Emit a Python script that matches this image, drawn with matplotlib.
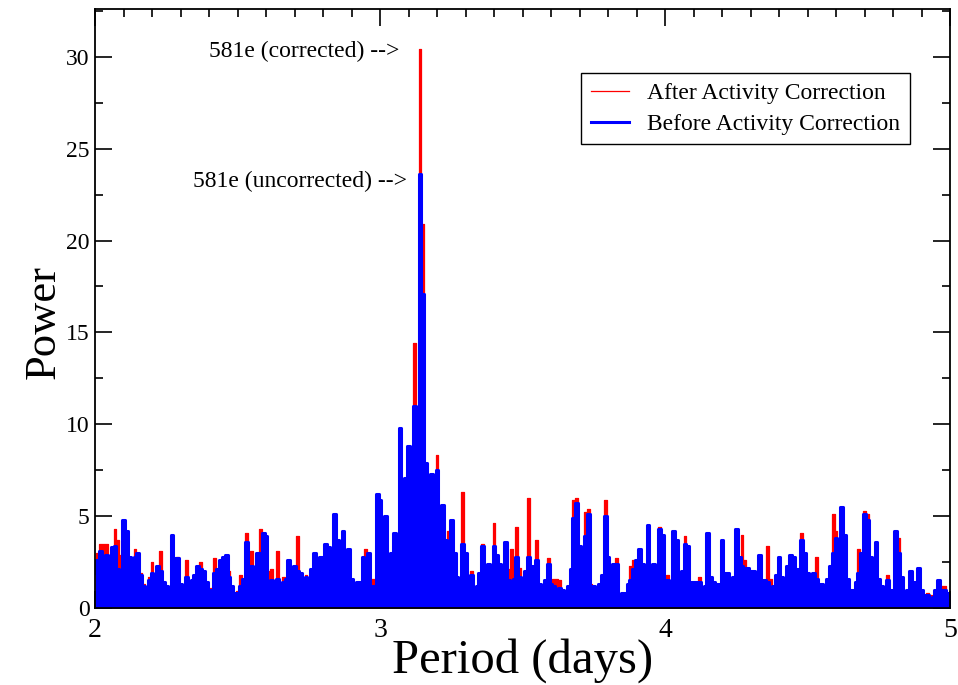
import numpy as np
import matplotlib.pyplot as plt
from matplotlib.ticker import MultipleLocator

plt.rcParams['font.family'] = ['Liberation Serif', 'DejaVu Serif']

# period grid (days), 0.01 d steps from 2 to 5
period = np.round(np.linspace(2.0, 5.0, 301), 2)

# periodogram power before activity correction (blue)
power_before = [
    1.9, 2.6, 3.1, 2.0, 2.9, 1.5, 3.3, 3.4, 2.1, 1.7,
    4.8, 4.2, 2.8, 1.2, 2.8, 3.0, 1.8, 1.2, 1.0, 1.5,
    1.9, 1.5, 2.3, 2.0, 1.4, 1.2, 1.0, 4.0, 2.7, 2.7,
    1.3, 0.9, 1.7, 1.2, 1.5, 1.8, 2.3, 2.1, 2.0, 1.4,
    1.0, 1.0, 1.9, 2.1, 2.6, 2.8, 2.9, 1.7, 1.2, 0.8,
    0.8, 1.2, 1.6, 3.6, 2.0, 2.3, 1.8, 3.0, 3.0, 4.1,
    3.9, 1.4, 1.5, 1.2, 1.6, 0.6, 1.4, 1.6, 2.6, 2.1,
    2.3, 2.0, 1.9, 1.0, 1.7, 1.5, 2.1, 3.0, 2.3, 2.8,
    1.5, 3.5, 3.3, 2.5, 5.1, 3.7, 2.0, 4.2, 1.7, 3.2,
    1.6, 1.0, 1.4, 1.4, 2.8, 2.5, 3.0, 1.2, 1.2, 6.2,
    5.9, 1.0, 5.0, 1.4, 3.0, 4.1, 3.5, 9.8, 4.5, 7.1,
    8.8, 7.3, 11.0, 4.0, 23.6, 17.1, 7.9, 6.0, 7.3, 3.5,
    7.5, 4.0, 5.6, 3.7, 1.2, 4.8, 3.0, 1.7, 0.9, 3.5,
    3.0, 0.6, 1.8, 1.0, 1.2, 1.9, 3.4, 2.3, 2.4, 2.0,
    3.4, 2.9, 2.4, 1.0, 3.6, 1.5, 1.3, 1.6, 2.8, 1.7,
    1.4, 2.0, 2.8, 2.3, 1.7, 2.6, 1.3, 0.8, 1.5, 2.4,
    1.3, 1.2, 1.0, 1.1, 1.0, 0.8, 1.2, 2.1, 4.9, 5.7,
    3.4, 2.9, 3.9, 5.1, 1.0, 1.2, 1.0, 1.3, 1.8, 5.0,
    2.8, 2.0, 2.4, 2.4, 0.6, 0.8, 0.8, 1.3, 1.5, 2.1,
    2.6, 3.2, 2.4, 1.8, 4.5, 1.9, 2.4, 2.0, 4.3, 4.0,
    1.0, 1.5, 1.2, 4.2, 3.7, 1.2, 2.0, 3.5, 3.4, 1.4,
    1.4, 1.4, 1.4, 1.0, 1.2, 4.1, 1.7, 1.4, 1.3, 1.3,
    3.7, 1.9, 1.9, 1.0, 1.7, 4.3, 2.8, 2.3, 2.2, 2.2,
    2.0, 2.0, 1.8, 2.9, 1.5, 1.5, 1.4, 1.0, 1.2, 1.8,
    2.8, 1.7, 1.5, 2.3, 2.9, 2.8, 2.1, 1.9, 3.7, 3.0,
    1.9, 1.0, 1.9, 1.6, 1.0, 1.3, 1.2, 1.6, 2.3, 3.0,
    3.8, 3.4, 5.5, 4.0, 1.6, 1.0, 1.0, 1.4, 1.9, 3.0,
    5.1, 4.8, 2.8, 1.7, 3.6, 1.6, 1.2, 1.0, 1.5, 1.0,
    1.0, 4.2, 3.0, 1.7, 0.8, 1.0, 2.0, 1.2, 1.4, 2.2,
    1.0, 0.7, 0.7, 0.5, 0.6, 1.0, 1.5, 1.0, 1.0, 0.8,
    0.8,
]

# periodogram power after activity correction (red)
power_after = [
    2.2, 3.0, 3.5, 3.5, 3.5, 2.3, 3.3, 4.3, 3.7, 2.9,
    4.8, 4.2, 2.8, 1.3, 3.2, 3.0, 1.9, 1.3, 1.0, 1.7,
    2.5, 1.5, 2.3, 3.1, 1.4, 1.2, 1.1, 4.0, 2.7, 2.8,
    1.3, 0.9, 2.6, 1.2, 1.5, 1.8, 2.3, 2.5, 2.0, 1.4,
    1.0, 1.1, 2.7, 2.1, 2.6, 2.8, 2.9, 2.0, 1.2, 0.8,
    0.9, 1.8, 1.6, 4.1, 2.0, 3.1, 1.8, 3.0, 4.3, 4.1,
    3.9, 2.0, 2.1, 1.2, 3.1, 0.6, 1.7, 1.6, 2.6, 2.1,
    2.3, 3.9, 1.9, 1.4, 1.8, 1.5, 2.1, 3.0, 2.4, 2.8,
    1.5, 3.5, 3.3, 2.5, 5.1, 3.7, 2.0, 4.2, 1.7, 3.2,
    1.6, 1.0, 1.4, 1.4, 2.8, 3.2, 3.0, 1.6, 1.6, 6.2,
    5.9, 1.0, 5.0, 1.4, 3.0, 4.1, 3.5, 9.8, 4.5, 7.1,
    8.8, 7.3, 14.4, 4.2, 30.4, 20.9, 7.9, 6.0, 7.3, 3.5,
    8.3, 4.3, 5.6, 3.7, 4.2, 4.8, 3.0, 1.7, 1.2, 6.3,
    3.0, 0.7, 2.0, 1.0, 1.2, 1.9, 3.5, 2.3, 2.4, 2.0,
    4.6, 2.9, 2.4, 1.1, 3.6, 2.1, 3.2, 1.6, 4.4, 2.2,
    1.4, 2.0, 6.0, 2.3, 2.1, 3.7, 1.3, 1.2, 1.5, 2.7,
    1.3, 1.6, 1.6, 1.5, 1.0, 0.8, 1.2, 2.1, 5.9, 6.0,
    3.4, 2.9, 5.2, 5.4, 1.3, 1.2, 1.0, 1.3, 1.8, 5.9,
    2.8, 2.0, 2.4, 2.7, 0.6, 0.8, 0.8, 1.3, 2.3, 2.6,
    2.6, 3.2, 2.4, 1.8, 4.5, 1.9, 2.4, 2.0, 4.4, 4.0,
    1.0, 1.8, 1.2, 4.2, 3.7, 1.4, 2.0, 3.9, 3.4, 1.4,
    1.4, 1.4, 1.7, 1.0, 1.2, 4.1, 1.7, 1.4, 1.3, 1.3,
    3.7, 1.9, 1.9, 1.2, 1.7, 4.3, 2.8, 4.0, 2.6, 2.2,
    2.0, 2.0, 1.8, 2.9, 1.5, 1.5, 3.4, 1.6, 1.2, 1.8,
    2.8, 1.7, 1.5, 2.3, 2.9, 2.8, 2.1, 1.9, 4.1, 3.0,
    1.9, 1.0, 1.9, 2.8, 1.0, 1.3, 1.2, 1.6, 2.3, 5.1,
    4.2, 3.4, 5.5, 4.0, 1.6, 1.0, 1.0, 1.4, 3.2, 3.0,
    5.3, 5.1, 2.8, 1.7, 3.6, 1.6, 1.2, 1.0, 1.8, 1.0,
    1.0, 4.2, 3.8, 1.7, 0.8, 1.0, 2.0, 1.2, 1.4, 2.2,
    1.0, 0.7, 0.8, 0.7, 0.6, 1.0, 1.5, 1.2, 1.2, 0.8,
    0.8,
]

fig = plt.figure(figsize=(9.58, 6.85), dpi=100)
ax = fig.add_axes([0.0992, 0.1124, 0.8925, 0.8745])

# red behind, blue on top; the dense periodogram reads as filled spikes
ax.fill_between(period, power_after, step='mid', color='#ff0000', lw=0, zorder=1)
ax.plot(period, power_after, color='#ff0000', lw=0.9, drawstyle='steps-mid',
        label='After Activity Correction', zorder=2)
ax.fill_between(period, power_before, step='mid', color='#0000ff', lw=0, zorder=3)
ax.plot(period, power_before, color='#0000ff', lw=2.2, drawstyle='steps-mid',
        label='Before Activity Correction', zorder=4)

ax.set_xlim(2, 5)
ax.set_ylim(0, 32.6)
ax.xaxis.set_major_locator(MultipleLocator(1))
ax.xaxis.set_minor_locator(MultipleLocator(0.1))
ax.yaxis.set_major_locator(MultipleLocator(5))
ax.yaxis.set_minor_locator(MultipleLocator(2.5))
ax.tick_params(which='both', direction='in', top=True, right=True,
               labelsize=17, width=1.2)
ax.tick_params(which='major', length=12)
ax.tick_params(which='minor', length=6)
ax.tick_params(axis='x', pad=7, labelsize=20)
ax.tick_params(axis='y', pad=4)
for s in ax.spines.values():
    s.set_linewidth(1.3)
    s.set_zorder(5)

ax.set_xlabel('Period (days)', fontsize=35, labelpad=-3)
ax.set_ylabel('Power', fontsize=32)
ax.yaxis.set_label_coords(-0.037, 0.477)

ax.text(3.067, 30.3, '581e (corrected) -->', fontsize=17, ha='right', va='center')
ax.text(3.095, 23.2, '581e (uncorrected) -->', fontsize=17, ha='right', va='center')

leg = ax.legend(loc='upper right', bbox_to_anchor=(0.953, 0.893), borderaxespad=0,
                fontsize=17, fancybox=False, framealpha=1, edgecolor='black',
                handlelength=1.6, labelspacing=0.4, borderpad=0.4)
leg.get_frame().set_linewidth(1.0)

fig.savefig('out.png', dpi=100)
